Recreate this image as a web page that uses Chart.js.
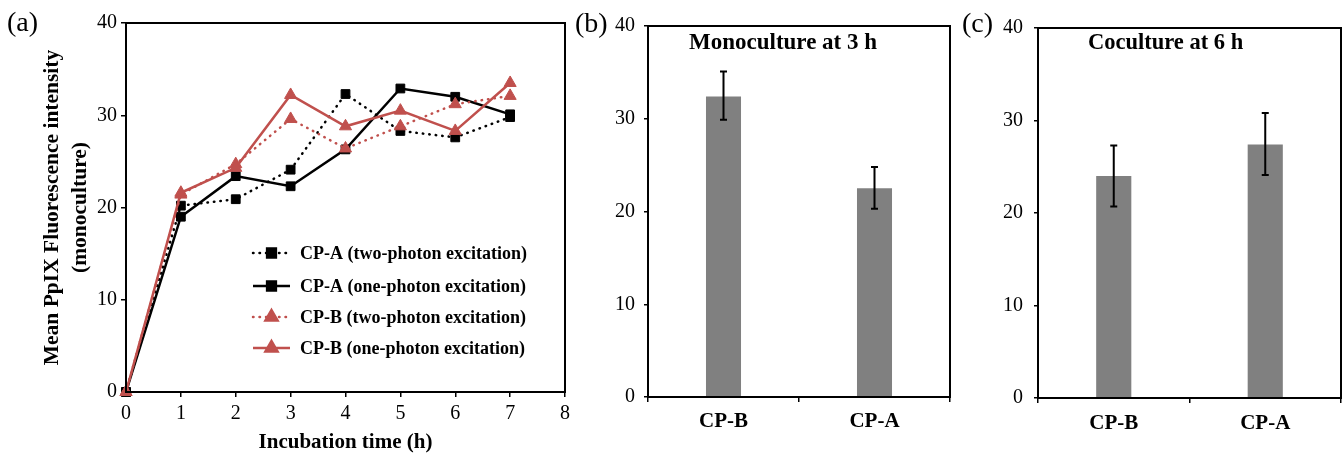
<!DOCTYPE html>
<html>
<head>
<meta charset="utf-8">
<script src="https://cdn.jsdelivr.net/npm/chart.js@4.4.1/dist/chart.umd.min.js"></script>
<style>
  body { margin: 0; background: #fff; width: 1342px; height: 456px; overflow: hidden; position: relative; }
  canvas { position: absolute; top: 0; }
  .lab { position: absolute; font-family: "Liberation Serif", serif; font-size: 28px; line-height: 1; color: #000; }
</style>
</head>
<body>
<canvas id="chA" width="575" height="456" style="left:0"></canvas>
<canvas id="chB" width="380" height="456" style="left:575px"></canvas>
<canvas id="chC" width="387" height="456" style="left:955px"></canvas>
<div class="lab" style="left:7px;top:8px">(a)</div>
<div class="lab" style="left:575px;top:9px">(b)</div>
<div class="lab" style="left:962px;top:9px">(c)</div>
<script>
// panel (a) data
var hours = [0, 1, 2, 3, 4, 5, 6, 7];
var cpaTwo = [0, 20.2, 20.9, 24.1, 32.3, 28.3, 27.6, 29.8];
var cpaOne = [0, 19.0, 23.4, 22.3, 26.3, 32.9, 32.0, 30.1];
var cpbTwo = [0, 21.4, 24.7, 29.6, 26.4, 28.8, 31.2, 32.1];
var cpbOne = [0, 21.6, 24.3, 32.2, 28.8, 30.5, 28.3, 33.5];
var seriesNames = [
  "CP-A (two-photon excitation)",
  "CP-A (one-photon excitation)",
  "CP-B (two-photon excitation)",
  "CP-B (one-photon excitation)"
];

// panels (b) and (c) data
var barCats = ["CP-B", "CP-A"];
var monoVals = [32.4, 22.5];
var monoLo = [29.9, 20.3];
var monoHi = [35.1, 24.8];
var cocuVals = [24.0, 27.4];
var cocuLo = [20.7, 24.1];
var cocuHi = [27.3, 30.8];

var yTicks = [0, 10, 20, 30, 40];

var SERIF = "'Liberation Serif', 'Times New Roman', serif";
var RED = "#c0504d";
Chart.defaults.font.family = SERIF;
Chart.defaults.color = "#000";

// black frame round the plot area
var boxPlugin = {
  id: "box",
  afterDraw: function (chart) {
    var a = chart.chartArea, ctx = chart.ctx;
    ctx.save();
    ctx.strokeStyle = "#000";
    ctx.lineWidth = 2;
    ctx.strokeRect(a.left, a.top, a.right - a.left, a.bottom - a.top);
    ctx.restore();
  }
};

// legend of panel (a), drawn inside the plot
var lineLegend = {
  id: "lineLegend",
  afterDraw: function (chart) {
    var a = chart.chartArea, ctx = chart.ctx;
    var rows = [230, 263, 294, 325];
    chart.data.datasets.forEach(function (ds, i) {
      var y = a.top + rows[i];
      var x0 = a.left + 127, x1 = a.left + 164;
      ctx.save();
      ctx.strokeStyle = ds.borderColor;
      ctx.lineWidth = ds.borderWidth;
      ctx.lineCap = ds.borderCapStyle || "butt";
      ctx.setLineDash(ds.borderDash || []);
      ctx.beginPath();
      ctx.moveTo(x0, y);
      ctx.lineTo(x1, y);
      ctx.stroke();
      ctx.setLineDash([]);
      ctx.fillStyle = ds.pointBackgroundColor;
      ctx.strokeStyle = ds.pointBorderColor;
      Chart.helpers.drawPoint(ctx, {pointStyle: ds.pointStyle, radius: ds.pointRadius, rotation: 0, borderWidth: 1}, (x0 + x1) / 2, y);
      ctx.fillStyle = "#000";
      ctx.font = "bold 18px " + SERIF;
      ctx.textBaseline = "middle";
      ctx.fillText(ds.label, a.left + 174, y + 1);
      ctx.restore();
    });
  }
};

// error bars and inner title for the bar panels
var barExtras = {
  id: "barExtras",
  afterDatasetsDraw: function (chart, args, opts) {
    var ctx = chart.ctx, ys = chart.scales.y, a = chart.chartArea;
    var meta = chart.getDatasetMeta(0);
    ctx.save();
    ctx.strokeStyle = "#000";
    ctx.lineWidth = 2;
    meta.data.forEach(function (bar, i) {
      var yh = ys.getPixelForValue(opts.hi[i]);
      var yl = ys.getPixelForValue(opts.lo[i]);
      ctx.beginPath();
      ctx.moveTo(bar.x, yh); ctx.lineTo(bar.x, yl);
      ctx.moveTo(bar.x - 3.5, yh); ctx.lineTo(bar.x + 3.5, yh);
      ctx.moveTo(bar.x - 3.5, yl); ctx.lineTo(bar.x + 3.5, yl);
      ctx.stroke();
    });
    ctx.fillStyle = "#000";
    ctx.font = "bold " + opts.size + "px " + SERIF;
    ctx.textBaseline = "middle";
    ctx.fillText(opts.title, a.left + opts.dx, opts.ty);
    ctx.restore();
  }
};

function pts(vals) {
  return vals.map(function (v, i) { return {x: hours[i], y: v}; });
}

function lineSet(label, vals, color, dotted, style, r, order) {
  return {
    label: label,
    data: pts(vals),
    borderColor: color,
    backgroundColor: color,
    pointBackgroundColor: color,
    pointBorderColor: color,
    borderWidth: 2.5,
    borderDash: dotted ? [0.5, 6] : [],
    borderCapStyle: dotted ? "round" : "butt",
    pointStyle: style,
    pointRadius: r,
    pointBorderWidth: 1,
    tension: 0,
    clip: false,
    order: order
  };
}

var gridOpts = {drawOnChartArea: false, drawTicks: true, tickLength: 5, color: "#000", lineWidth: 1.5};
var borderOpts = {display: true, color: "#000", width: 2};

new Chart(document.getElementById("chA"), {
  type: "line",
  data: {
    datasets: [
      lineSet(seriesNames[0], cpaTwo, "#000", true, "rect", 6.2, 3),
      lineSet(seriesNames[1], cpaOne, "#000", false, "rect", 6.2, 2),
      lineSet(seriesNames[2], cpbTwo, RED, true, "triangle", 7, 1),
      lineSet(seriesNames[3], cpbOne, RED, false, "triangle", 7, 0)
    ]
  },
  options: {
    responsive: false,
    animation: false,
    layout: {padding: {top: 23, right: 8, left: 0, bottom: 0}},
    plugins: {legend: {display: false}, tooltip: {enabled: false}},
    scales: {
      x: {
        type: "linear", min: 0, max: 8,
        grid: gridOpts, border: borderOpts,
        ticks: {stepSize: 1, padding: 5, font: {size: 20}},
        title: {display: true, text: "Incubation time (h)", font: {size: 21, weight: "bold"}, padding: {top: 0, bottom: 1}},
        afterFit: function (s) { s.height = 64; }
      },
      y: {
        min: 0, max: 40,
        grid: gridOpts, border: borderOpts,
        afterBuildTicks: function (s) { s.ticks = yTicks.map(function (v) { return {value: v}; }); },
        ticks: {padding: 4, font: {size: 20}},
        title: {display: true, text: ["Mean PpIX Fluorescence intensity", "(monoculture)"], font: {size: 21.5, weight: "bold", lineHeight: 1.28}, padding: {top: 39, bottom: 0}},
        afterFit: function (s) { s.width = 126; }
      }
    }
  },
  plugins: [boxPlugin, lineLegend]
});

function barChart(id, vals, lo, hi, title, tsize, dx, pad, yWidth, labPad) {
  return new Chart(document.getElementById(id), {
    type: "bar",
    data: {
      labels: barCats,
      datasets: [{data: vals, backgroundColor: "#808080", borderWidth: 0, barPercentage: 0.232, categoryPercentage: 1}]
    },
    options: {
      responsive: false,
      animation: false,
      layout: {padding: {top: pad.top, right: pad.right, left: 0, bottom: 0}},
      plugins: {
        legend: {display: false}, tooltip: {enabled: false},
        barExtras: {lo: lo, hi: hi, title: title, size: tsize, dx: dx, ty: 43}
      },
      scales: {
        x: {
          grid: {drawOnChartArea: false, drawTicks: true, tickLength: 5, color: "#000", lineWidth: 1.5},
          border: borderOpts,
          ticks: {padding: labPad, font: {size: 21, weight: "bold"}},
          afterFit: function (s) { s.height = 456 - pad.top - pad.plotH; }
        },
        y: {
          min: 0, max: 40,
          grid: {drawOnChartArea: false, drawTicks: true, tickLength: 4, color: "#000", lineWidth: 1.5},
          border: borderOpts,
          afterBuildTicks: function (s) { s.ticks = yTicks.map(function (v) { return {value: v}; }); },
          ticks: {padding: yWidth.pad, font: {size: 20}},
          afterFit: function (s) { s.width = yWidth.w; }
        }
      }
    },
    plugins: [boxPlugin, barExtras]
  });
}

barChart("chB", monoVals, monoLo, monoHi, "Monoculture at 3 h", 23, 41,
  {top: 26, right: 5, plotH: 371}, {w: 73, pad: 9}, 7);
barChart("chC", cocuVals, cocuLo, cocuHi, "Coculture at 6 h", 22.5, 50,
  {top: 28, right: 1, plotH: 370}, {w: 83, pad: 11}, 8);
</script>
</body>
</html>
